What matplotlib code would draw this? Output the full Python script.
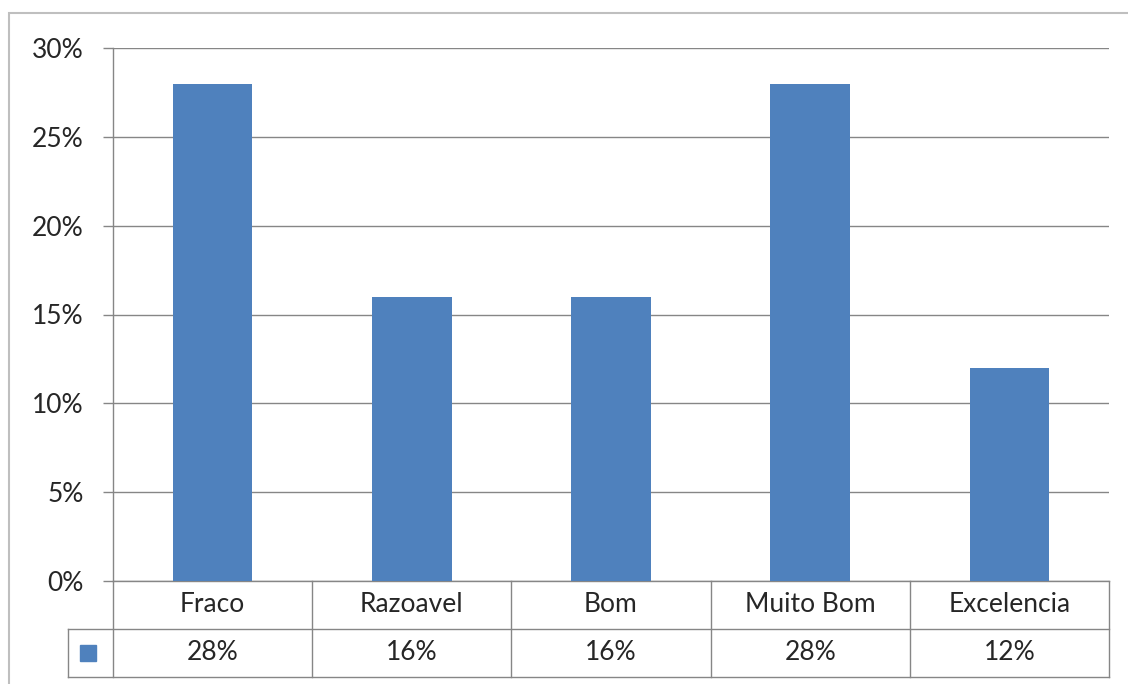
import matplotlib.pyplot as plt
import matplotlib.transforms as mtransforms
from matplotlib.patches import Rectangle
from matplotlib.ticker import PercentFormatter

categories = ['Fraco', 'Razoavel', 'Bom', 'Muito Bom', 'Excelencia']
values = [28, 16, 16, 28, 12]
y_ticks = [0, 5, 10, 15, 20, 25, 30]

BAR_COLOR = '#4F81BD'
GRID_COLOR = '#868686'
TEXT_COLOR = '#262626'

plt.rcParams['font.family'] = ['Lato', 'DejaVu Sans']

W, H = 1128, 684
fig = plt.figure(figsize=(W / 100, H / 100), dpi=100)
fig.patch.set_facecolor('white')

# outer chart border (right and bottom run off the picture)
fig.add_artist(Rectangle((9 / W, -0.05), 1.2, 1 - 13 / H + 0.05,
                         transform=fig.transFigure, fill=False,
                         edgecolor='#BFBFBF', linewidth=1.5))

# plot area in pixel coords
left, right, top, bottom = 113, 1109, 48, 581
ax = fig.add_axes([left / W, (H - bottom) / H, (right - left) / W, (bottom - top) / H])

x = range(len(categories))
ax.bar(x, values, width=0.4, color=BAR_COLOR, zorder=3)

ax.set_xlim(-0.5, len(categories) - 0.5)
ax.set_ylim(0, 30)
ax.set_yticks(y_ticks)
ax.yaxis.set_major_formatter(PercentFormatter(decimals=0))
ax.grid(axis='y', color=GRID_COLOR, linewidth=1.0, zorder=0)
ax.set_xticks([])

for s in ['top', 'right', 'bottom']:
    ax.spines[s].set_visible(False)
ax.spines['left'].set_color(GRID_COLOR)
ax.spines['left'].set_linewidth(1.0)
ax.tick_params(axis='y', length=7.2, width=1.0, color=GRID_COLOR, pad=14,
               labelsize=19, labelcolor=TEXT_COLOR)

# data table below the plot
row_h = 48 / (bottom - top)
trans = mtransforms.blended_transform_factory(ax.transData, ax.transAxes)
n = len(categories)
line_kw = dict(color=GRID_COLOR, linewidth=1.0, clip_on=False, transform=trans)

# horizontal lines
ax.plot([-0.5, n - 0.5], [0, 0], **line_kw)
ax.plot([-0.5 - 0.225, n - 0.5], [-row_h, -row_h], **line_kw)
ax.plot([-0.5 - 0.225, n - 0.5], [-2 * row_h, -2 * row_h], **line_kw)
# vertical lines
for i in range(n + 1):
    ax.plot([i - 0.5, i - 0.5], [0, -2 * row_h], **line_kw)
ax.plot([-0.5 - 0.225, -0.5 - 0.225], [-row_h, -2 * row_h], **line_kw)

for i, (cat, val) in enumerate(zip(categories, values)):
    ax.text(i, -0.5 * row_h, cat, transform=trans, ha='center', va='center',
            fontsize=19, color=TEXT_COLOR)
    ax.text(i, -1.5 * row_h, f'{val}%', transform=trans, ha='center', va='center',
            fontsize=19, color=TEXT_COLOR)

# legend key in the table
key_w = 16 / ((right - left) / n)
key_h = 16 / (bottom - top)
ax.add_patch(Rectangle((-0.5 - 0.225 + 12 / ((right - left) / n), -1.5 * row_h - key_h / 2),
                       key_w, key_h, transform=trans, color=BAR_COLOR, clip_on=False))

fig.savefig('out.png', dpi=100)
